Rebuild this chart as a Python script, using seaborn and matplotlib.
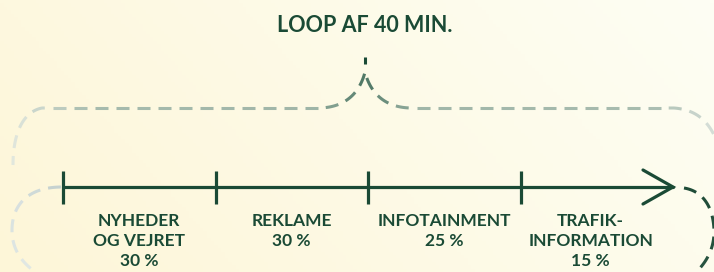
import matplotlib
matplotlib.use('Agg')
import matplotlib.pyplot as plt
from matplotlib.colors import to_rgb
import seaborn as sns
import numpy as np
import pandas as pd

title = 'LOOP AF 40 MIN.'
categories = ['NYHEDER\nOG VEJRET', 'REKLAME', 'INFOTAINMENT', 'TRAFIK-\nINFORMATION']
shares = [30, 30, 25, 15]

DARK = '#1a4a35'
W, H = 714, 272
X0, STEP, Y_AXIS = 63, 152.5, 187      # pixel layout of the timeline


def bezier(p0, p1, p2, p3, n=60):
    t = np.linspace(0, 1, n)[:, None]
    p0, p1, p2, p3 = [np.asarray(p, dtype=float) for p in (p0, p1, p2, p3)]
    return (1 - t)**3 * p0 + 3 * (1 - t)**2 * t * p1 + 3 * (1 - t) * t**2 * p2 + t**3 * p3


def dashed(ax, pts, stops, key, dash=13, gap=8, lw=2.2, offset=0):
    # draw a dashed path dash by dash so the colour can fade along it
    seg = np.diff(pts, axis=0)
    d = np.concatenate([[0], np.cumsum(np.hypot(seg[:, 0], seg[:, 1]))])
    total = d[-1]
    sx = [s[0] for s in stops]
    rgb = np.array([to_rgb(s[1]) for s in stops])
    s = -offset
    while s < total:
        a, b = max(s, 0), min(s + dash, total)
        if b > a:
            dd = np.linspace(a, b, 12)
            xs = np.interp(dd, d, pts[:, 0])
            ys = np.interp(dd, d, pts[:, 1])
            k = key(xs.mean(), ys.mean(), (a + b) / 2 / total)
            col = [np.interp(k, sx, rgb[:, c]) for c in range(3)]
            ax.plot(xs, ys, color=col, lw=lw, solid_capstyle='butt', zorder=2)
        s += dash + gap


def main():
    sns.set_theme(style='white')
    plt.rcParams['font.family'] = ['Lato', 'DejaVu Sans']

    fig = plt.figure(figsize=(W / 100, H / 100), dpi=100)

    # background + decorative loop, in pixel coordinates
    bg = fig.add_axes([0, 0, 1, 1])
    bg.set_xlim(0, W)
    bg.set_ylim(H, 0)
    bg.axis('off')
    gx = np.linspace(0, 1, 200)[None, :]
    gy = np.linspace(0, 1, 80)[:, None]
    t = np.clip(0.75 * gx + 0.25 * (1 - gy), 0, 1)
    c0, c1 = np.array(to_rgb('#fdf6d8')), np.array(to_rgb('#fefef4'))
    img = c0 * (1 - t[..., None]) + c1 * t[..., None]
    bg.imshow(img, extent=[0, W, H, 0], aspect='auto', zorder=0)

    # brace over the timeline
    brace = np.vstack([
        bezier((13, 165), (13, 135), (22, 112), (42, 108)),
        bezier((42, 108), (150, 108), (250, 108), (318, 108)),
        bezier((318, 108), (346, 108), (360, 92), (365, 72)),
        bezier((365, 72), (370, 92), (384, 108), (412, 108)),
        bezier((412, 108), (500, 108), (600, 108), (674, 108)),
        bezier((674, 108), (700, 110), (712, 125), (720, 150)),
    ])
    brace_stops = [(10, '#e4e9df'), (40, '#c9d5cb'), (90, '#a6bbad'), (310, '#a0b6a8'),
                   (345, '#6f9180'), (365, '#4c7562'), (385, '#6f9180'), (420, '#a0b6a8'),
                   (650, '#a8bcaf'), (690, '#c3d0c7'), (720, '#dde4dd')]
    dashed(bg, brace, brace_stops, lambda x, y, f: x, offset=4)
    bg.plot([365, 365], [57, 64], color=DARK, lw=2.2, solid_capstyle='butt', zorder=2)

    # loop back from the arrow tip round to the first tick
    right_loop = np.vstack([
        bezier((684, 188), (708, 192), (714, 215), (714, 232)),
        bezier((714, 232), (714, 255), (700, 272), (680, 285)),
    ])
    dashed(bg, right_loop, [(0, '#1e4b37'), (1, '#2a5642')], lambda x, y, f: f, offset=0)
    left_loop = np.vstack([
        bezier((62, 187), (25, 187), (12, 208), (12, 230)),
        bezier((12, 230), (12, 255), (28, 272), (60, 285)),
    ])
    dashed(bg, left_loop, [(0, '#c3cfcd'), (0.3, '#d7e0df'), (1, '#e6ebe5')],
           lambda x, y, f: f, offset=-1)

    # timeline in segment units
    df = pd.DataFrame({'segment': categories, 'share': shares})
    df['start'] = np.arange(len(df))
    n = len(df)

    ax = fig.add_axes([0, 0, 1, 1])
    ax.set_xlim(-X0 / STEP, (W - X0) / STEP)
    ax.set_ylim(H, 0)
    ax.patch.set_alpha(0)
    ax.axis('off')

    line = pd.DataFrame({'x': [0, n], 'y': [Y_AXIS, Y_AXIS]})
    sns.lineplot(data=line, x='x', y='y', ax=ax, color=DARK, linewidth=2.3, zorder=3)
    ax.vlines(df['start'], Y_AXIS - 16, Y_AXIS + 17, color=DARK, linewidth=2.3, zorder=3)
    head = 30 / STEP
    ax.plot([n - head, n, n - head], [Y_AXIS - 17, Y_AXIS, Y_AXIS + 17],
            color=DARK, linewidth=2.3, zorder=3, solid_joinstyle='miter')

    for _, row in df.iterrows():
        ax.text(row['start'] + 0.5 - (0.04 if row['start'] == n - 1 else 0), 213.5,
                f"{row['segment']}\n{row['share']} %", ha='center', va='top',
                fontsize=12.5, fontweight='bold', color=DARK, linespacing=1.3)

    fig.text(365 / W, 1 - 25 / H, title, ha='center', va='center',
             fontsize=15.5, fontweight='bold', color=DARK)

    fig.savefig('out.png', dpi=100)
    plt.close(fig)


if __name__ == '__main__':
    main()
